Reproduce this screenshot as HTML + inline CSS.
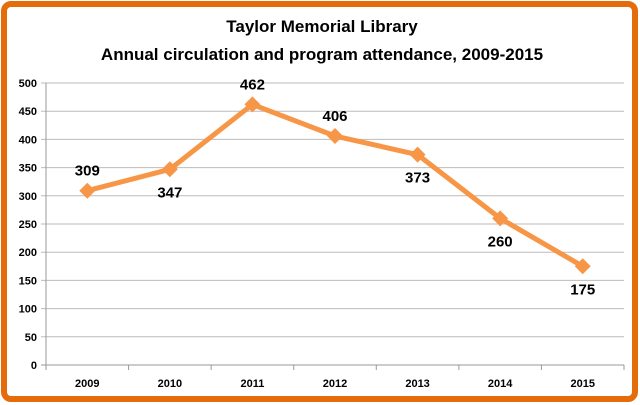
<!DOCTYPE html>
<html><head><meta charset="utf-8"><style>
html,body{margin:0;padding:0;background:#fff;}
svg{display:block;font-family:"Liberation Sans",sans-serif;}
</style></head><body>
<svg width="640" height="405">
<rect x="4" y="4" width="631" height="395" rx="7" fill="#fff" stroke="#E46C0A" stroke-width="6"/>
<text x="322" y="32" text-anchor="middle" font-size="17" font-weight="bold" fill="#000">Taylor Memorial Library</text>
<text x="322" y="60" text-anchor="middle" font-size="17" font-weight="bold" fill="#000">Annual circulation and program attendance, 2009-2015</text>
<g id="grid"></g><g id="axes"></g><g id="series"></g>
</svg>
<script>
const categories=["2009","2010","2011","2012","2013","2014","2015"];
const values=[309,347,462,406,373,260,175];
const yTicks=[0,50,100,150,200,250,300,350,400,450,500];
const labelBelow=[false,true,false,false,true,true,true];
const NS="http://www.w3.org/2000/svg";
const x0=46,x1=624,y0=365,y1=83,yMax=500;
const bw=(x1-x0)/categories.length;
const X=i=>x0+bw*(i+0.5);
const Y=v=>y0-(v/yMax)*(y0-y1);
function mk(t,a,p){const e=document.createElementNS(NS,t);for(const k in a)e.setAttribute(k,a[k]);p.appendChild(e);return e;}
const grid=document.getElementById('grid'),axes=document.getElementById('axes'),ser=document.getElementById('series');
yTicks.forEach(v=>{
 const l=mk('line',{x1:x0-5,x2:x1,y1:Y(v),y2:Y(v),stroke:v===0?'#999':'#bbb','stroke-width':1},grid);
 
 
 const t=mk('text',{x:x0-9,y:Y(v)+4,'text-anchor':'end','font-size':11,'font-weight':'bold',fill:'#000'},axes);
 t.textContent=v;
 
 
});
const ya=mk('line',{x1:x0,x2:x0,y1:y1,y2:y0,stroke:'#999'},axes);


for(let i=0;i<=categories.length;i++){
 const tk=mk('line',{x1:x0+bw*i,x2:x0+bw*i,y1:y0,y2:y0+5,stroke:'#999'},axes);
 
 
}
categories.forEach((c,i)=>{
 const t=mk('text',{x:X(i),y:y0+22,'text-anchor':'middle','font-size':11,'font-weight':'bold',fill:'#000'},axes);
 t.textContent=c;
 
 
});
const pl=mk('polyline',{points:values.map((v,i)=>X(i)+','+Y(v)).join(' '),fill:'none',stroke:'#F79646','stroke-width':5,'stroke-linejoin':'round'},ser);


values.forEach((v,i)=>{
 const x=X(i),y=Y(v),s=8;
 const d=mk('polygon',{points:`${x},${y-s} ${x+s},${y} ${x},${y+s} ${x-s},${y}`,fill:'#F79646'},ser);
 
 
 const t=mk('text',{x:x,y:labelBelow[i]?y+28:y-15,'text-anchor':'middle','font-size':15,'font-weight':'bold',fill:'#000'},ser);
 t.textContent=v;
 
 
});
</script>
</body></html>
